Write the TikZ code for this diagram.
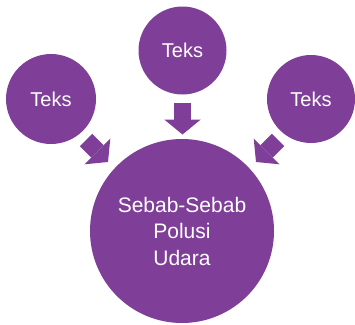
\documentclass[tikz,border=0pt]{standalone}
\usepackage{fontspec}
\setmainfont{Liberation Sans}
\usetikzlibrary{arrows.meta}
\definecolor{ungu}{RGB}{127,63,152}

\begin{document}
\begin{tikzpicture}[x=1pt,y=1pt,font=\fontsize{20}{26.5}\selectfont,
  bulat/.style={circle,fill=ungu,text=white,inner sep=0pt,align=center},
  panah/.style={draw=ungu,line width=17.5pt,
    -{Triangle[length=15pt,width=36.5pt,line width=0pt]}}]
\useasboundingbox (0,0) rectangle (355,-324);

\begin{scope}
\node[bulat,minimum size=184pt,font=\fontsize{21}{26.5}\selectfont] (sebab) at (182,-231) {Sebab-Sebab\\Polusi\\Udara};
\node[bulat,minimum size=88pt] (teksT) at (182.5,-50.5) {Teks};
\node[bulat,minimum size=90pt] (teksL) at (51,-99) {Teks};
\node[bulat,minimum size=88pt] (teksR) at (311,-99) {Teks};

\coordinate (t1) at (182.5,-103);
\coordinate (t2) at (182.5,-134.5);
\coordinate (l1) at (86,-140);
\coordinate (l2) at (108,-162);
\coordinate (r1) at (278,-140);
\coordinate (r2) at (256,-162);

\draw[panah] (t1) -- (t2);
\draw[panah] (l1) -- (l2);
\draw[panah] (r1) -- (r2);
\end{scope}

\end{tikzpicture}
\end{document}
